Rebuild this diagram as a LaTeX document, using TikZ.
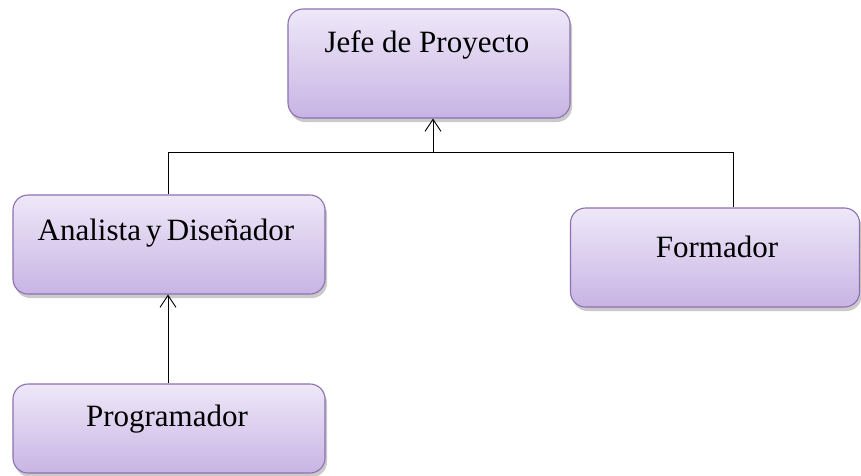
\documentclass[tikz,border=0pt]{standalone}
\usepackage{fontspec}
\setmainfont{Liberation Serif}
\usetikzlibrary{shadows,arrows.meta}
\definecolor{boxtop}{HTML}{EEE8F8}
\definecolor{boxbot}{HTML}{C8B4E4}
\definecolor{boxline}{HTML}{8C70B0}
\tikzset{
  rolebox/.style={draw=boxline, line width=1.1pt, rounded corners=15pt,
    top color=boxtop, bottom color=boxbot, inner sep=0pt,
    drop shadow={shadow xshift=2pt, shadow yshift=-4pt, opacity=0.35, fill=black!60}},
  rolelabel/.style={font=\fontsize{31}{36}\selectfont, inner sep=0pt},
  conn/.style={line width=0.9pt, black},
  arr/.style={conn, -{Straight Barb[length=12pt,width=16pt,line width=0.9pt]}}
}
\begin{document}
\begin{tikzpicture}[x=1pt,y=1pt]
\useasboundingbox (0,0) rectangle (861,-475);
\node[rolebox, minimum width=282pt, minimum height=109pt] (jefe) at (429,-63.5) {};
\node[rolebox, minimum width=312pt, minimum height=99pt] (ana) at (169,-244.5) {};
\node[rolebox, minimum width=289pt, minimum height=99pt] (form) at (715,-257.5) {};
\node[rolebox, minimum width=312pt, minimum height=89pt] (prog) at (169,-428.5) {};
\node[rolelabel] (tjefe) at (427,-45) {Jefe de Proyecto};
\node[rolelabel] (tana) at (166,-233) {Analista\,y\,Diseñador};
\node[rolelabel] (tform) at (717,-247) {Formador};
\node[rolelabel] (tprog) at (167,-419) {Programador};
\coordinate (jbot) at (433,-152);
\coordinate (left) at (168,-152);
\coordinate (right) at (733,-152);
\draw[conn] (left) -- (right);
\draw[arr] (jbot) -- (jbot |- jefe.south);
\draw[conn] (left) -- (left |- ana.north);
\draw[conn] (right) -- (right |- form.north);
\draw[arr] (left |- prog.north) -- (left |- ana.south);
\end{tikzpicture}
\end{document}
